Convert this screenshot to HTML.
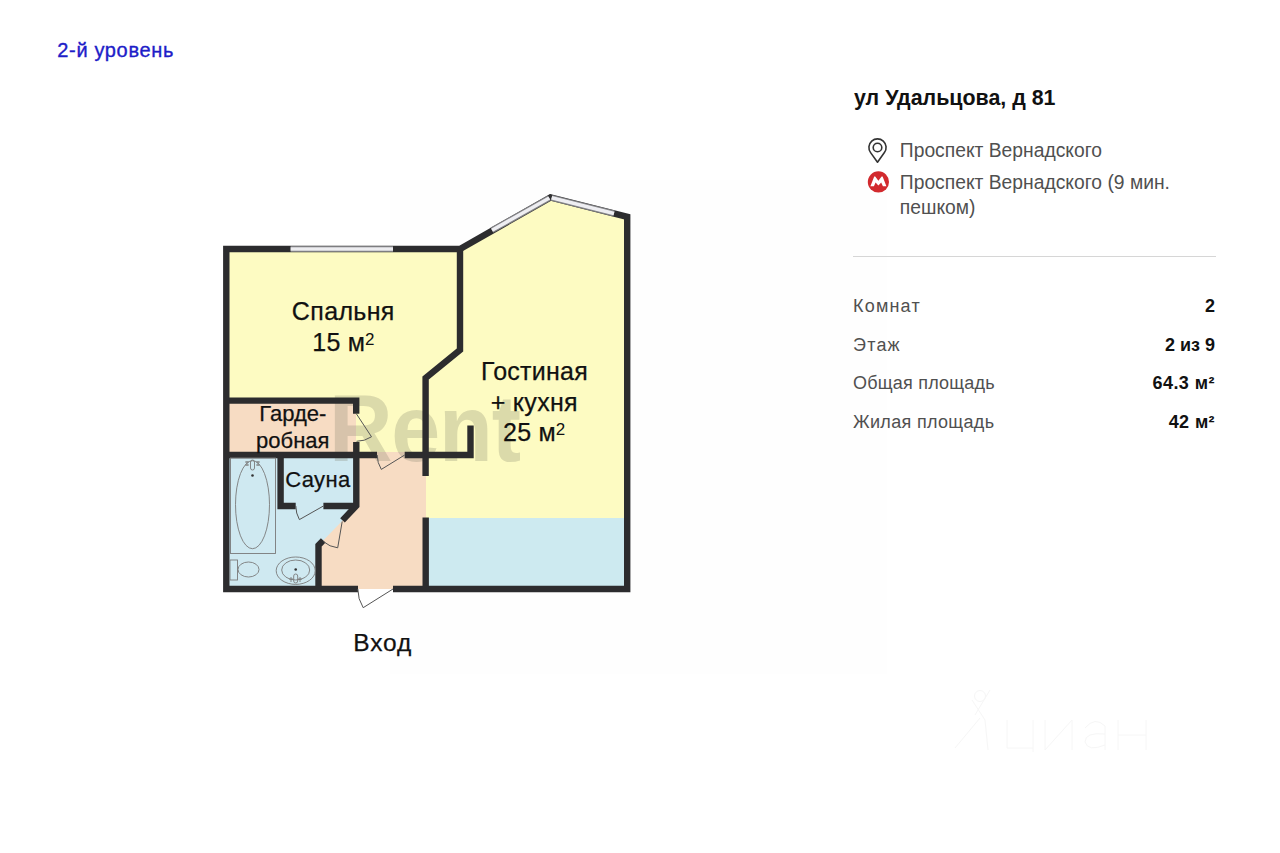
<!DOCTYPE html>
<html>
<head>
<meta charset="utf-8">
<style>
html,body{margin:0;padding:0;background:#fff;}
body{width:1280px;height:853px;position:relative;overflow:hidden;font-family:"Liberation Sans",sans-serif;}
.t{position:absolute;white-space:nowrap;line-height:1;}
.lvl{left:57.3px;top:40.2px;font-size:20px;letter-spacing:0.65px;color:#1d1dc8;-webkit-text-stroke:0.35px #1d1dc8;}
.addr{left:854px;top:87.7px;font-size:21.4px;font-weight:700;color:#111;}
.st{left:899.8px;font-size:19.3px;color:#505050;}
.lab{left:853px;font-size:18px;color:#505050;}
.val{right:65px;font-size:18px;font-weight:700;color:#111;text-align:right;}
.fp{position:absolute;left:0;top:0;}
.rl{position:absolute;white-space:nowrap;line-height:1;color:#111;transform:translateX(-50%);-webkit-text-stroke:0.25px #111;}
.divider{position:absolute;left:853px;top:256px;width:363px;height:1px;background:#d6d6d6;}
</style>
</head>
<body>
<div class="t lvl">2-й уровень</div>

<svg class="fp" width="1280" height="853" viewBox="0 0 1280 853">
  <!-- faint photo background -->
  <rect x="390" y="180" width="497" height="494" fill="#fefefe"/>
  <!-- interior yellow -->
  <polygon points="226,249 460,249 550.5,197.5 627,216 627,589 226,589" fill="#fdfbc2"/>
  <!-- peach corridor -->
  <rect x="316" y="452" width="110" height="137" fill="#f7dcc3"/>
  <!-- garderobe peach -->
  <rect x="229" y="403" width="127" height="50" fill="#f7dcc3"/>
  <!-- bathroom blue -->
  <polygon points="229,455 356,455 356,505 342.6,520.5 323,540.7 318.5,545.5 318.5,589 229,589" fill="#cfe9f1"/>
  <!-- kitchen blue -->
  <rect x="426" y="518" width="201" height="71" fill="#cdeaf0"/>

  <!-- watermark -->
  <text x="329" y="461" transform="translate(0,461) scale(1,1.07) translate(0,-461)" font-family="Liberation Sans" font-weight="700" font-size="88" letter-spacing="-1.2" fill="rgba(120,120,100,0.25)">Rent</text>

  <!-- walls -->
  <g fill="none" stroke="#2c2c2e" stroke-width="6.4" stroke-linejoin="miter" stroke-linecap="butt">
    <polyline points="358,589 226.3,589 226.3,249 460,249 550.5,197.4 627.2,216.8 627.2,589 393,589"/>
    <!-- bedroom right wall with diagonal -->
    <polyline points="460,249 460,350 425.6,378 425.6,476"/>
    <!-- kitchen divider -->
    <polyline points="425.7,517.5 425.7,589"/>
    <!-- garderobe top wall -->
    <polyline points="229,400.6 356.2,400.6 356.2,413.8"/>
    <polyline points="356.3,442 356.3,505.8 342.5,520.4"/>
    <!-- horizontal wall -->
    <polyline points="229,455 377,455"/>
    <polyline points="404.7,455 470.5,455 470.5,425.6"/>
    <!-- sauna -->
    <polyline points="280.6,455 280.6,506 295.7,506"/>
    <polyline points="323.4,506 356,506"/>
    <!-- bathroom lower wall -->
    <polyline points="323.2,540.4 318.5,545.3 318.5,589"/>
  </g>

  <!-- windows -->
  <g fill="none" stroke-linecap="butt">
    <line x1="290.6" y1="249" x2="393" y2="249" stroke="#7d7d80" stroke-width="6.2"/>
    <line x1="290.6" y1="249" x2="393" y2="249" stroke="#ededf0" stroke-width="3.6"/>
    <line x1="492" y1="230.2" x2="549.3" y2="198" stroke="#828285" stroke-width="6"/>
    <line x1="492" y1="230.2" x2="549.3" y2="198" stroke="#eeeef2" stroke-width="3.6"/>
    <line x1="551.6" y1="197.8" x2="614" y2="213.5" stroke="#828285" stroke-width="6"/>
    <line x1="551.6" y1="197.8" x2="614" y2="213.5" stroke="#eeeef2" stroke-width="3.6"/>
    <line x1="550.4" y1="194.3" x2="550.6" y2="197.3" stroke="#333" stroke-width="1.6"/>
  </g>

  <!-- doors -->
  <g fill="none" stroke="#555" stroke-width="1">
    <path d="M356.5,414 L371.5,436.8 A27.3,27.3 0 0 1 356.5,441.3"/>
    <path d="M404.7,455 L381.3,469.4 A27.5,27.5 0 0 1 377.2,455"/>
    <path d="M323.4,506 L299.4,519.6 A27.6,27.6 0 0 1 295.8,506"/>
    <path d="M342.2,521.5 L337.7,547.8 A26.7,26.7 0 0 1 323.4,541.6"/>
    <path d="M393,589 L363.2,607.7 A35.2,35.2 0 0 1 357.8,589"/>
  </g>

  <!-- bathtub -->
  <g fill="none" stroke="#7a7a7a" stroke-width="0.9">
    <rect x="230.5" y="458" width="45" height="95.5"/>
    <ellipse cx="252.5" cy="504.7" rx="17" ry="44"/>
    <rect x="250.5" y="460" width="4" height="10" rx="2"/>
    <path d="M245,462 h4 M245,465 h4 M256,462 h4 M256,465 h4 M247,461 v5 M258,461 v5"/>
  </g>
  <circle cx="252.5" cy="475.5" r="1.3" fill="#333"/>
  <!-- toilet -->
  <g fill="none" stroke="#7a7a7a" stroke-width="0.9">
    <rect x="230" y="560" width="7.5" height="20"/>
    <ellipse cx="248.5" cy="569.5" rx="10.5" ry="7.5"/>
  </g>
  <!-- sink -->
  <g fill="none" stroke="#7a7a7a" stroke-width="0.9">
    <ellipse cx="295.7" cy="570.7" rx="19.5" ry="13.7"/>
    <ellipse cx="295.7" cy="570" rx="14" ry="10"/>
    <rect x="293.7" y="574" width="4" height="9" rx="2"/>
    <path d="M289,579 h4 M298,579 h4 M291,577 v5 M300,577 v5"/>
  </g>
  <circle cx="295.7" cy="569.5" r="1.3" fill="#333"/>
</svg>

<!-- room labels -->
<div class="rl" style="left:343.3px;top:298.7px;font-size:25px;letter-spacing:0.35px;">Спальня</div>
<div class="rl" style="left:343.5px;top:329.5px;font-size:25px;letter-spacing:0.2px;">15 м<span style="font-size:17px;position:relative;top:-6px;-webkit-text-stroke:0;">2</span></div>
<div class="rl" style="left:534.5px;top:359.1px;font-size:25px;letter-spacing:0.25px;">Гостиная</div>
<div class="rl" style="left:534.3px;top:390px;font-size:25px;letter-spacing:0.3px;">+ кухня</div>
<div class="rl" style="left:534.3px;top:420.3px;font-size:25px;letter-spacing:0.2px;">25 м<span style="font-size:17px;position:relative;top:-6px;-webkit-text-stroke:0;">2</span></div>
<div class="rl" style="left:292.9px;top:403.2px;font-size:22px;">Гарде-</div>
<div class="rl" style="left:292.8px;top:429.9px;font-size:22px;">робная</div>
<div class="rl" style="left:317.9px;top:469.3px;font-size:22px;letter-spacing:0.35px;">Сауна</div>
<div class="rl" style="left:382.8px;top:631.2px;font-size:24.5px;letter-spacing:0.9px;">Вход</div>

<!-- right panel -->
<div class="t addr">ул Удальцова, д 81</div>

<svg style="position:absolute;left:866px;top:137px" width="24" height="27" viewBox="0 0 24 27">
  <path d="M11.5,25.2 L4.6,15.6 A8.6,8.6 0 1 1 18.4,15.6 Z" fill="none" stroke="#333" stroke-width="1.6" stroke-linejoin="round"/>
  <circle cx="11.5" cy="10.5" r="4.3" fill="none" stroke="#333" stroke-width="1.6"/>
</svg>
<div class="t st" style="top:140.8px;">Проспект Вернадского</div>

<svg style="position:absolute;left:867px;top:171px" width="23" height="23" viewBox="867 171 23 23">
  <circle cx="878.4" cy="181.9" r="10.6" fill="#d22a2e"/>
  <path d="M870.4,186.3 L874.2,176.5 L875.2,176.5 L878.4,180.8 L881.6,176.5 L882.6,176.5 L886.4,186.3 L882.9,186.3 L881.2,182.6 L878.4,185.4 L875.6,182.6 L873.9,186.3 Z" fill="#fff"/>
</svg>
<div class="t st" style="top:172.8px;">Проспект Вернадского (9 мин.</div>
<div class="t st" style="top:198.2px;">пешком)</div>

<div class="divider"></div>

<div class="t lab" style="top:297.4px;letter-spacing:1.2px;">Комнат</div>
<div class="t val" style="top:297.4px;">2</div>
<div class="t lab" style="top:335.7px;letter-spacing:1.2px;">Этаж</div>
<div class="t val" style="top:335.7px;">2 из 9</div>
<div class="t lab" style="top:374.2px;letter-spacing:0.22px;">Общая площадь</div>
<div class="t val" style="top:374.2px;letter-spacing:0.45px;">64.3 м²</div>
<div class="t lab" style="top:412.9px;letter-spacing:0.33px;">Жилая площадь</div>
<div class="t val" style="top:412.9px;letter-spacing:0.4px;">42 м²</div>

<svg style="position:absolute;left:940px;top:680px" width="220" height="80" viewBox="940 680 220 80">
  <g fill="none" stroke="#f6f6f6" stroke-width="1">
    <circle cx="980" cy="696" r="5.5"/>
    <path d="M990,690 L975,715 M972,700 L985,720 L988,750 M980,718 L955,748"/>
    <path d="M1007,720 V748 H1033 M1033,720 V748 M1033,752 V748"/>
    <path d="M1045,720 V750 L1072,720 V750"/>
    <path d="M1085,728 Q1095,716 1105,726 V750 M1105,734 Q1085,732 1085,742 Q1088,752 1105,745"/>
    <path d="M1118,720 V750 M1118,735 H1146 M1146,720 V750"/>
  </g>
</svg>
</body>
</html>
